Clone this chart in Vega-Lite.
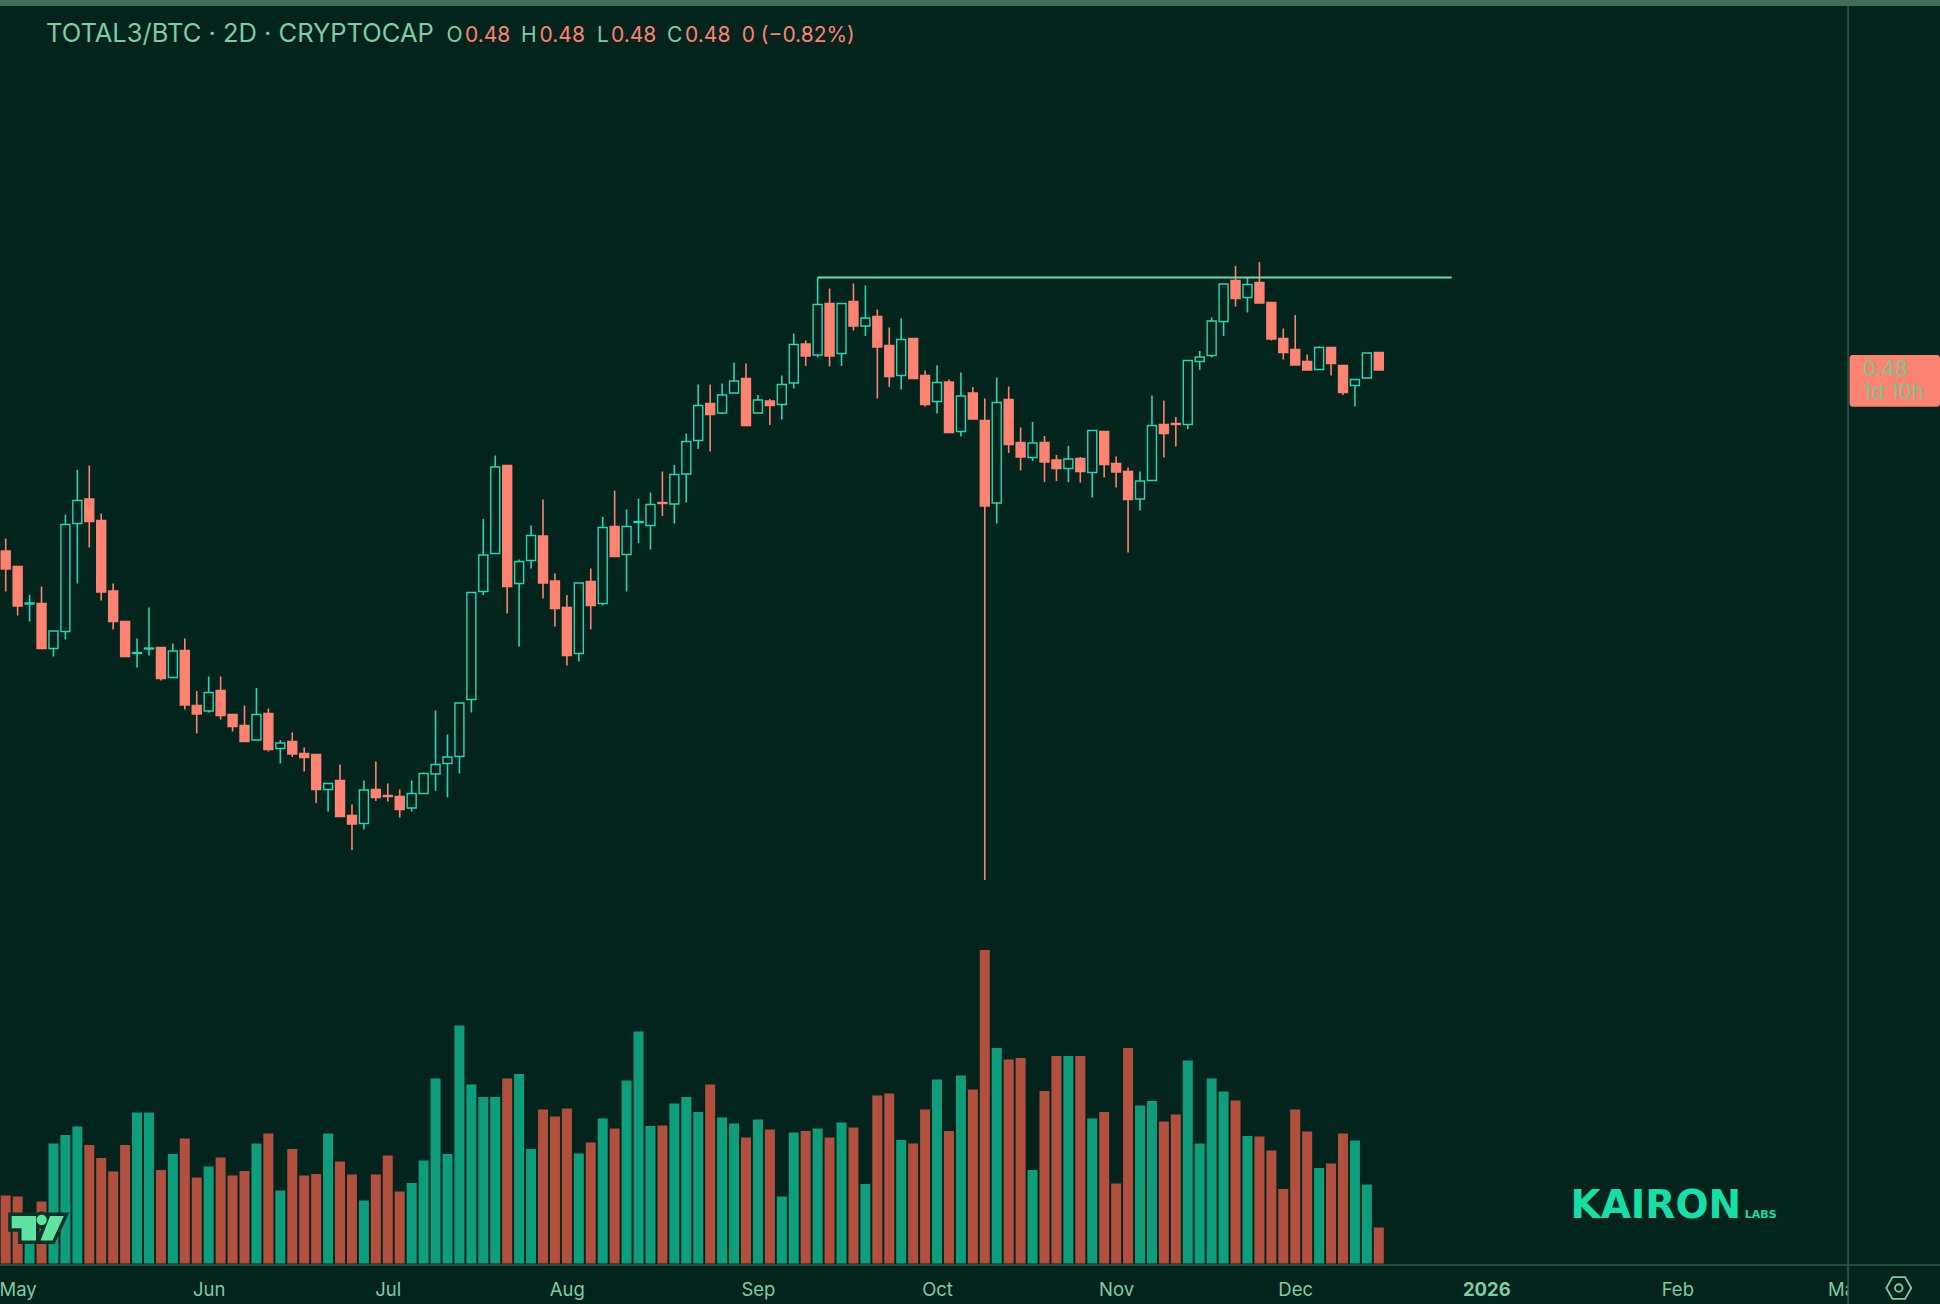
{"$schema":"https://vega.github.io/schema/vega-lite/v6.json","width":1940,"height":1304,"padding":0,"autosize":"none","background":"#03241d","config":{"view":{"stroke":null},"font":"Inter"},
"datasets":{"candles":[
{"d":"2025-04-29","dir":"down","o":0.4438,"h":0.4463,"l":0.4357,"c":0.4402,"v":68},
{"d":"2025-05-01","dir":"down","o":0.4407,"h":0.4407,"l":0.4309,"c":0.4328,"v":67},
{"d":"2025-05-03","dir":"up","o":0.4332,"h":0.4350,"l":0.4297,"c":0.4334,"v":43},
{"d":"2025-05-05","dir":"down","o":0.4333,"h":0.4367,"l":0.4243,"c":0.4243,"v":62},
{"d":"2025-05-07","dir":"up","o":0.4243,"h":0.4278,"l":0.4227,"c":0.4278,"v":120},
{"d":"2025-05-09","dir":"up","o":0.4277,"h":0.4511,"l":0.4261,"c":0.4491,"v":128.5},
{"d":"2025-05-11","dir":"up","o":0.4493,"h":0.4600,"l":0.4373,"c":0.4539,"v":137},
{"d":"2025-05-13","dir":"down","o":0.4542,"h":0.4609,"l":0.4445,"c":0.4497,"v":118.5},
{"d":"2025-05-15","dir":"down","o":0.4499,"h":0.4513,"l":0.4339,"c":0.4356,"v":105.5},
{"d":"2025-05-17","dir":"down","o":0.4358,"h":0.4373,"l":0.4281,"c":0.4297,"v":92},
{"d":"2025-05-19","dir":"down","o":0.4297,"h":0.4297,"l":0.4227,"c":0.4227,"v":118.5},
{"d":"2025-05-21","dir":"up","o":0.4233,"h":0.4263,"l":0.4205,"c":0.4235,"v":151},
{"d":"2025-05-23","dir":"up","o":0.4242,"h":0.4325,"l":0.4229,"c":0.4244,"v":151},
{"d":"2025-05-25","dir":"down","o":0.4245,"h":0.4245,"l":0.4179,"c":0.4183,"v":93.5},
{"d":"2025-05-27","dir":"up","o":0.4185,"h":0.4253,"l":0.4185,"c":0.4238,"v":109.5},
{"d":"2025-05-29","dir":"down","o":0.4239,"h":0.4263,"l":0.4121,"c":0.4130,"v":125},
{"d":"2025-05-31","dir":"down","o":0.4129,"h":0.4158,"l":0.4073,"c":0.4112,"v":86},
{"d":"2025-06-02","dir":"up","o":0.4118,"h":0.4187,"l":0.4115,"c":0.4155,"v":97},
{"d":"2025-06-04","dir":"down","o":0.4159,"h":0.4187,"l":0.4101,"c":0.4109,"v":106},
{"d":"2025-06-06","dir":"down","o":0.4111,"h":0.4111,"l":0.4077,"c":0.4087,"v":88},
{"d":"2025-06-08","dir":"down","o":0.4089,"h":0.4129,"l":0.4057,"c":0.4057,"v":92.5},
{"d":"2025-06-10","dir":"up","o":0.4060,"h":0.4164,"l":0.4060,"c":0.4111,"v":120},
{"d":"2025-06-12","dir":"down","o":0.4113,"h":0.4123,"l":0.4037,"c":0.4041,"v":130},
{"d":"2025-06-14","dir":"up","o":0.4043,"h":0.4060,"l":0.4013,"c":0.4054,"v":73},
{"d":"2025-06-16","dir":"down","o":0.4057,"h":0.4075,"l":0.4026,"c":0.4032,"v":114.5},
{"d":"2025-06-18","dir":"down","o":0.4033,"h":0.4045,"l":0.3997,"c":0.4025,"v":88},
{"d":"2025-06-20","dir":"down","o":0.4031,"h":0.4031,"l":0.3934,"c":0.3961,"v":89.5},
{"d":"2025-06-22","dir":"up","o":0.3961,"h":0.3973,"l":0.3917,"c":0.3973,"v":130},
{"d":"2025-06-24","dir":"down","o":0.3979,"h":0.4011,"l":0.3907,"c":0.3907,"v":102},
{"d":"2025-06-26","dir":"down","o":0.3909,"h":0.3931,"l":0.3840,"c":0.3892,"v":89},
{"d":"2025-06-28","dir":"up","o":0.3893,"h":0.3979,"l":0.3881,"c":0.3960,"v":63},
{"d":"2025-06-30","dir":"down","o":0.3961,"h":0.4017,"l":0.3938,"c":0.3945,"v":89},
{"d":"2025-07-02","dir":"down","o":0.3949,"h":0.3973,"l":0.3937,"c":0.3947,"v":108},
{"d":"2025-07-04","dir":"down","o":0.3947,"h":0.3961,"l":0.3905,"c":0.3921,"v":72},
{"d":"2025-07-06","dir":"up","o":0.3924,"h":0.3979,"l":0.3917,"c":0.3953,"v":80.5},
{"d":"2025-07-08","dir":"up","o":0.3953,"h":0.3995,"l":0.3953,"c":0.3993,"v":103},
{"d":"2025-07-10","dir":"up","o":0.3992,"h":0.4119,"l":0.3958,"c":0.4011,"v":185},
{"d":"2025-07-12","dir":"up","o":0.4013,"h":0.4071,"l":0.3945,"c":0.4026,"v":109.5},
{"d":"2025-07-14","dir":"up","o":0.4027,"h":0.4134,"l":0.3993,"c":0.4134,"v":238},
{"d":"2025-07-16","dir":"up","o":0.4141,"h":0.4355,"l":0.4115,"c":0.4355,"v":179},
{"d":"2025-07-18","dir":"up","o":0.4357,"h":0.4502,"l":0.4350,"c":0.4430,"v":166.5},
{"d":"2025-07-20","dir":"up","o":0.4433,"h":0.4629,"l":0.4433,"c":0.4606,"v":166.5},
{"d":"2025-07-22","dir":"down","o":0.4609,"h":0.4609,"l":0.4313,"c":0.4367,"v":185},
{"d":"2025-07-24","dir":"up","o":0.4373,"h":0.4421,"l":0.4247,"c":0.4417,"v":189.5},
{"d":"2025-07-26","dir":"up","o":0.4419,"h":0.4489,"l":0.4403,"c":0.4469,"v":114.5},
{"d":"2025-07-28","dir":"down","o":0.4468,"h":0.4541,"l":0.4343,"c":0.4374,"v":154},
{"d":"2025-07-30","dir":"down","o":0.4378,"h":0.4393,"l":0.4287,"c":0.4323,"v":147},
{"d":"2025-08-01","dir":"down","o":0.4325,"h":0.4350,"l":0.4209,"c":0.4229,"v":155},
{"d":"2025-08-03","dir":"up","o":0.4233,"h":0.4374,"l":0.4217,"c":0.4374,"v":110},
{"d":"2025-08-05","dir":"down","o":0.4377,"h":0.4403,"l":0.4281,"c":0.4329,"v":121},
{"d":"2025-08-07","dir":"up","o":0.4333,"h":0.4506,"l":0.4329,"c":0.4485,"v":145},
{"d":"2025-08-09","dir":"down","o":0.4487,"h":0.4559,"l":0.4427,"c":0.4427,"v":135},
{"d":"2025-08-11","dir":"up","o":0.4431,"h":0.4521,"l":0.4357,"c":0.4487,"v":183},
{"d":"2025-08-13","dir":"up","o":0.4495,"h":0.4543,"l":0.4454,"c":0.4497,"v":232},
{"d":"2025-08-15","dir":"up","o":0.4489,"h":0.4555,"l":0.4441,"c":0.4531,"v":137.5},
{"d":"2025-08-17","dir":"down","o":0.4535,"h":0.4597,"l":0.4508,"c":0.4533,"v":138},
{"d":"2025-08-19","dir":"up","o":0.4532,"h":0.4610,"l":0.4493,"c":0.4591,"v":160},
{"d":"2025-08-21","dir":"up","o":0.4592,"h":0.4673,"l":0.4535,"c":0.4657,"v":166.5},
{"d":"2025-08-23","dir":"up","o":0.4659,"h":0.4771,"l":0.4642,"c":0.4729,"v":151.5},
{"d":"2025-08-25","dir":"down","o":0.4733,"h":0.4771,"l":0.4637,"c":0.4711,"v":179},
{"d":"2025-08-27","dir":"up","o":0.4714,"h":0.4773,"l":0.4712,"c":0.4750,"v":146},
{"d":"2025-08-29","dir":"up","o":0.4754,"h":0.4815,"l":0.4754,"c":0.4778,"v":140},
{"d":"2025-08-31","dir":"down","o":0.4783,"h":0.4813,"l":0.4689,"c":0.4689,"v":126},
{"d":"2025-09-02","dir":"up","o":0.4714,"h":0.4750,"l":0.4714,"c":0.4740,"v":144},
{"d":"2025-09-04","dir":"down","o":0.4738,"h":0.4742,"l":0.4690,"c":0.4729,"v":134},
{"d":"2025-09-06","dir":"up","o":0.4731,"h":0.4789,"l":0.4701,"c":0.4771,"v":67},
{"d":"2025-09-08","dir":"up","o":0.4774,"h":0.4873,"l":0.4763,"c":0.4851,"v":131},
{"d":"2025-09-10","dir":"down","o":0.4852,"h":0.4859,"l":0.4808,"c":0.4828,"v":132.5},
{"d":"2025-09-12","dir":"up","o":0.4830,"h":0.4985,"l":0.4825,"c":0.4931,"v":135},
{"d":"2025-09-14","dir":"down","o":0.4933,"h":0.4963,"l":0.4807,"c":0.4828,"v":126},
{"d":"2025-09-16","dir":"up","o":0.4833,"h":0.4933,"l":0.4808,"c":0.4933,"v":141},
{"d":"2025-09-18","dir":"down","o":0.4937,"h":0.4973,"l":0.4879,"c":0.4888,"v":136},
{"d":"2025-09-20","dir":"up","o":0.4888,"h":0.4969,"l":0.4868,"c":0.4904,"v":79.5},
{"d":"2025-09-22","dir":"down","o":0.4907,"h":0.4921,"l":0.4743,"c":0.4846,"v":168},
{"d":"2025-09-24","dir":"down","o":0.4849,"h":0.4885,"l":0.4766,"c":0.4787,"v":170},
{"d":"2025-09-26","dir":"up","o":0.4789,"h":0.4903,"l":0.4761,"c":0.4861,"v":123.5},
{"d":"2025-09-28","dir":"down","o":0.4863,"h":0.4863,"l":0.4783,"c":0.4783,"v":120},
{"d":"2025-09-30","dir":"down","o":0.4789,"h":0.4799,"l":0.4727,"c":0.4731,"v":154},
{"d":"2025-10-02","dir":"up","o":0.4737,"h":0.4809,"l":0.4713,"c":0.4775,"v":184},
{"d":"2025-10-04","dir":"down","o":0.4776,"h":0.4781,"l":0.4675,"c":0.4675,"v":132.5},
{"d":"2025-10-06","dir":"up","o":0.4677,"h":0.4795,"l":0.4667,"c":0.4748,"v":188},
{"d":"2025-10-08","dir":"down","o":0.4754,"h":0.4766,"l":0.4702,"c":0.4702,"v":174},
{"d":"2025-10-10","dir":"down","o":0.4699,"h":0.4743,"l":0.3780,"c":0.4528,"v":313.5},
{"d":"2025-10-12","dir":"up","o":0.4534,"h":0.4785,"l":0.4493,"c":0.4735,"v":215.5},
{"d":"2025-10-14","dir":"down","o":0.4741,"h":0.4767,"l":0.4634,"c":0.4651,"v":204},
{"d":"2025-10-16","dir":"down","o":0.4655,"h":0.4685,"l":0.4599,"c":0.4626,"v":205.5},
{"d":"2025-10-18","dir":"up","o":0.4625,"h":0.4696,"l":0.4618,"c":0.4654,"v":93.5},
{"d":"2025-10-20","dir":"down","o":0.4655,"h":0.4668,"l":0.4576,"c":0.4616,"v":172.5},
{"d":"2025-10-22","dir":"down","o":0.4620,"h":0.4630,"l":0.4578,"c":0.4603,"v":207.5},
{"d":"2025-10-24","dir":"up","o":0.4603,"h":0.4648,"l":0.4576,"c":0.4622,"v":207.5},
{"d":"2025-10-26","dir":"down","o":0.4623,"h":0.4626,"l":0.4575,"c":0.4597,"v":207.5},
{"d":"2025-10-28","dir":"up","o":0.4595,"h":0.4679,"l":0.4545,"c":0.4679,"v":145},
{"d":"2025-10-30","dir":"down","o":0.4677,"h":0.4677,"l":0.4585,"c":0.4611,"v":151.5},
{"d":"2025-11-01","dir":"down","o":0.4613,"h":0.4627,"l":0.4565,"c":0.4596,"v":80},
{"d":"2025-11-03","dir":"down","o":0.4597,"h":0.4605,"l":0.4435,"c":0.4541,"v":215.5},
{"d":"2025-11-05","dir":"up","o":0.4542,"h":0.4597,"l":0.4519,"c":0.4578,"v":158},
{"d":"2025-11-07","dir":"up","o":0.4579,"h":0.4749,"l":0.4579,"c":0.4689,"v":162.5},
{"d":"2025-11-09","dir":"down","o":0.4691,"h":0.4739,"l":0.4625,"c":0.4673,"v":142},
{"d":"2025-11-11","dir":"down","o":0.4693,"h":0.4706,"l":0.4647,"c":0.4691,"v":149},
{"d":"2025-11-13","dir":"up","o":0.4691,"h":0.4819,"l":0.4682,"c":0.4819,"v":203},
{"d":"2025-11-15","dir":"up","o":0.4817,"h":0.4838,"l":0.4800,"c":0.4826,"v":120},
{"d":"2025-11-17","dir":"up","o":0.4829,"h":0.4905,"l":0.4825,"c":0.4898,"v":185},
{"d":"2025-11-19","dir":"up","o":0.4897,"h":0.4972,"l":0.4868,"c":0.4972,"v":172},
{"d":"2025-11-21","dir":"down","o":0.4979,"h":0.5008,"l":0.4927,"c":0.4943,"v":163},
{"d":"2025-11-23","dir":"up","o":0.4945,"h":0.4986,"l":0.4915,"c":0.4971,"v":127.5},
{"d":"2025-11-25","dir":"down","o":0.4975,"h":0.5016,"l":0.4934,"c":0.4934,"v":127},
{"d":"2025-11-27","dir":"down","o":0.4935,"h":0.4935,"l":0.4859,"c":0.4862,"v":113},
{"d":"2025-11-29","dir":"down","o":0.4863,"h":0.4883,"l":0.4821,"c":0.4835,"v":74.5},
{"d":"2025-12-01","dir":"down","o":0.4841,"h":0.4910,"l":0.4810,"c":0.4810,"v":154},
{"d":"2025-12-03","dir":"down","o":0.4817,"h":0.4831,"l":0.4800,"c":0.4800,"v":132},
{"d":"2025-12-05","dir":"up","o":0.4801,"h":0.4847,"l":0.4801,"c":0.4845,"v":95.5},
{"d":"2025-12-07","dir":"down","o":0.4845,"h":0.4845,"l":0.4789,"c":0.4813,"v":100},
{"d":"2025-12-09","dir":"down","o":0.4809,"h":0.4809,"l":0.4750,"c":0.4755,"v":130},
{"d":"2025-12-11","dir":"up","o":0.4769,"h":0.4781,"l":0.4727,"c":0.4781,"v":123},
{"d":"2025-12-13","dir":"up","o":0.4784,"h":0.4834,"l":0.4784,"c":0.4834,"v":79},
{"d":"2025-12-15","dir":"down","o":0.4835,"h":0.4835,"l":0.4800,"c":0.4800,"v":36}
]},
"resolve":{"scale":{"y":"independent","fill":"independent","stroke":"independent","color":"independent"}},
"encoding":{"x":{"field":"d","type":"temporal","title":null,"scale":{"type":"utc","domain":["2025-04-28T01:05:00Z","2026-03-19T00:00:00Z"],"nice":false,"padding":0},
"axis":{"orient":"bottom","offset":-39,"domain":false,"ticks":false,"grid":false,"title":null,"labelFont":"Inter","labelFontSize":18.5,"labelColor":"#7ecba4","labelPadding":15,"labelOverlap":false,"labelFlush":false,"labelBound":false,"labelAngle":0,
"values":[{"year":2025,"month":5,"date":1,"utc":true},{"year":2025,"month":6,"date":2,"utc":true},{"year":2025,"month":7,"date":2,"utc":true},{"year":2025,"month":8,"date":1,"utc":true},{"year":2025,"month":9,"date":2,"utc":true},{"year":2025,"month":10,"date":2,"utc":true},{"year":2025,"month":11,"date":1,"utc":true},{"year":2025,"month":12,"date":1,"utc":true},{"year":2026,"month":1,"date":2,"utc":true},{"year":2026,"month":2,"date":3,"utc":true},{"year":2026,"month":3,"date":3,"utc":true}],
"labelExpr":"utcmonth(datum.value)==0 ? '2026' : utcFormat(datum.value,'%b')",
"labelFontWeight":{"condition":{"test":"utcmonth(datum.value)==0","value":700},"value":400}}}},
"layer":[
{"data":{"name":"candles"},"mark":{"type":"bar","size":10,"stroke":null},"encoding":{"y":{"field":"v","type":"quantitative","title":null,"scale":{"domain":[-40.5,1263.5],"nice":false,"zero":false},"axis":null},"y2":{"datum":0},"fill":{"field":"dir","type":"nominal","legend":null,"scale":{"domain":["up","down"],"range":["#109d7c","#b25040"]}}}},
{"data":{"name":"candles"},"mark":{"type":"rule","strokeWidth":1.6},"encoding":{"y":{"field":"h","type":"quantitative","title":null,"scale":{"domain":[0.2932,0.554],"nice":false,"zero":false},"axis":null},"y2":{"field":"l"},"stroke":{"field":"dir","type":"nominal","legend":null,"scale":{"domain":["up","down"],"range":["#2ad4b1","#fd8373"]}}}},
{"data":{"name":"candles"},"mark":{"type":"bar","size":9,"strokeWidth":1.4},"encoding":{"y":{"field":"o","type":"quantitative","title":null,"scale":{"domain":[0.2932,0.554],"nice":false,"zero":false},"axis":null},"y2":{"field":"c"},"fill":{"field":"dir","type":"nominal","legend":null,"scale":{"domain":["up","down"],"range":["#03241d","#fd8373"]}},"stroke":{"field":"dir","type":"nominal","legend":null,"scale":{"domain":["up","down"],"range":["#2ad4b1","#fd8373"]}}}},
{"data":{"values":[{"d":"2025-09-12","d2":"2025-12-27T05:00:00Z","p":0.4985}]},"mark":{"type":"rule","strokeWidth":2,"color":"#7bd3a3"},"encoding":{"x2":{"field":"d2"},"y":{"field":"p","type":"quantitative","title":null,"scale":{"domain":[0.2932,0.554],"nice":false,"zero":false},"axis":null}}},
{"data":{"values":[{"d":"2026-03-03T14:24:00Z","d2":"2026-03-19T00:00:00Z"}]},"mark":{"type":"rect","fill":"#03241d"},"encoding":{"x2":{"field":"d2"}}},
{"data":{"values":[{"d":"2025-04-28T01:05:00Z","d2":"2026-03-19T00:00:00Z","p":0.301}]},"mark":{"type":"rule","strokeWidth":1.5,"color":"#2e5a4b"},"encoding":{"x2":{"field":"d2"},"y":{"field":"p","type":"quantitative","title":null,"scale":{"domain":[0.2932,0.554],"nice":false,"zero":false},"axis":null}}},
{"data":{"values":[{"d":"2026-03-03T14:24:00Z"}]},"mark":{"type":"rule","strokeWidth":1.5,"color":"#2e5a4b"}},
{"data":{"values":[{"d":"2025-04-28T01:05:00Z","d2":"2026-03-19T00:00:00Z","p":0.554,"p2":0.5528}]},"mark":{"type":"rect","fill":"#3f6e58"},"encoding":{"x2":{"field":"d2"},"y":{"field":"p","type":"quantitative","title":null,"scale":{"domain":[0.2932,0.554],"nice":false,"zero":false},"axis":null},"y2":{"field":"p2"}}},
{"data":{"values":[{"d":"2026-03-03T20:24:00Z","d2":"2026-03-19T00:00:00Z","p":0.483,"p2":0.47266}]},"mark":{"type":"rect","fill":"#fd8373","cornerRadius":3},"encoding":{"x2":{"field":"d2"},"y":{"field":"p","type":"quantitative","title":null,"scale":{"domain":[0.2932,0.554],"nice":false,"zero":false},"axis":null},"y2":{"field":"p2"}}},
{"data":{"values":[{"d":"2026-03-06T02:24:00Z","p":0.4788,"t":"0.48"},{"d":"2026-03-06T02:24:00Z","p":0.47414,"t":"1d 10h"}]},"mark":{"type":"text","align":"left","baseline":"alphabetic","font":"Inter","fontSize":21,"color":"#7ec28f"},"encoding":{"y":{"field":"p","type":"quantitative","title":null,"scale":{"domain":[0.2932,0.554],"nice":false,"zero":false},"axis":null},"text":{"field":"t"}}},
{"data":{"values":[{"d":"2025-05-05T18:00:00Z","p":0.54554,"t":"TOTAL3/BTC · 2D · CRYPTOCAP"}]},"mark":{"type":"text","align":"left","baseline":"alphabetic","font":"Inter","fontSize":25.5,"color":"#7ecba4"},"encoding":{"y":{"field":"p","type":"quantitative","title":null,"scale":{"domain":[0.2932,0.554],"nice":false,"zero":false},"axis":null},"text":{"field":"t"}}},
{"data":{"values":[{"d":"2025-07-11T20:24:00Z","p":0.54554,"t":"O","k":"key"},{"d":"2025-07-14T22:19:00Z","p":0.54554,"t":"0.48","k":"val"},{"d":"2025-07-24T07:12:00Z","p":0.54554,"t":"H","k":"key"},{"d":"2025-07-27T10:19:00Z","p":0.54554,"t":"0.48","k":"val"},{"d":"2025-08-06T01:12:00Z","p":0.54554,"t":"L","k":"key"},{"d":"2025-08-08T09:21:00Z","p":0.54554,"t":"0.48","k":"val"},{"d":"2025-08-17T18:29:00Z","p":0.54554,"t":"C","k":"key"},{"d":"2025-08-20T19:12:00Z","p":0.54554,"t":"0.48","k":"val"},{"d":"2025-08-30T06:43:00Z","p":0.54554,"t":"0 (−0.82%)","k":"val"}]},"mark":{"type":"text","align":"left","baseline":"alphabetic","font":"Inter","fontSize":21},"encoding":{"y":{"field":"p","type":"quantitative","title":null,"scale":{"domain":[0.2932,0.554],"nice":false,"zero":false},"axis":null},"text":{"field":"t"},"color":{"field":"k","type":"nominal","legend":null,"scale":{"domain":["key","val"],"range":["#7ecba4","#fd8373"]}}}},
{"data":{"values":[{"d":"2026-01-16T02:24:00Z","p":0.31034,"t":"KAIRON"}]},"mark":{"type":"text","align":"left","baseline":"alphabetic","font":"DejaVu Sans","fontWeight":"bold","fontSize":39,"color":"#19dda6"},"encoding":{"y":{"field":"p","type":"quantitative","title":null,"scale":{"domain":[0.2932,0.554],"nice":false,"zero":false},"axis":null},"text":{"field":"t"}}},
{"data":{"values":[{"d":"2026-02-14T07:12:00Z","p":0.31034,"t":"LABS"}]},"mark":{"type":"text","align":"left","baseline":"alphabetic","font":"DejaVu Sans","fontWeight":"bold","fontSize":11,"color":"#19dda6"},"encoding":{"y":{"field":"p","type":"quantitative","title":null,"scale":{"domain":[0.2932,0.554],"nice":false,"zero":false},"axis":null},"text":{"field":"t"}}},
{"data":{"values":[{"d":"2025-05-04T15:00:00Z","p":0.30834}]},"mark":{"type":"point","filled":true,"opacity":1,"size":3600,"fill":"#0a3229","stroke":"#0a3229","strokeWidth":7,"shape":"M-0.92,-0.41L-0.11,-0.41L-0.11,0.41L-0.59,0.41L-0.59,0L-0.92,0ZM0.36,-0.41L0.82,-0.41L0.44,0.41L0.04,0.41ZM-0.09,-0.28a0.17,0.17 0 1,0 0.34,0a0.17,0.17 0 1,0 -0.34,0Z"},"encoding":{"y":{"field":"p","type":"quantitative","title":null,"scale":{"domain":[0.2932,0.554],"nice":false,"zero":false},"axis":null}}},
{"data":{"values":[{"d":"2025-05-04T15:00:00Z","p":0.30834}]},"mark":{"type":"point","filled":true,"opacity":1,"size":3600,"fill":"#5fe3a1","stroke":null,"shape":"M-0.92,-0.41L-0.11,-0.41L-0.11,0.41L-0.59,0.41L-0.59,0L-0.92,0ZM0.36,-0.41L0.82,-0.41L0.44,0.41L0.04,0.41ZM-0.09,-0.28a0.17,0.17 0 1,0 0.34,0a0.17,0.17 0 1,0 -0.34,0Z"},"encoding":{"y":{"field":"p","type":"quantitative","title":null,"scale":{"domain":[0.2932,0.554],"nice":false,"zero":false},"axis":null}}},
{"data":{"values":[{"d":"2026-03-12T02:24:00Z","p":0.2964}]},"mark":{"type":"point","filled":false,"opacity":1,"size":625,"color":"#7ecba4","strokeWidth":1.8,"shape":"M-1,0L-0.5,-0.87L0.5,-0.87L1,0L0.5,0.87L-0.5,0.87ZM-0.3,0a0.3,0.3 0 1,0 0.6,0a0.3,0.3 0 1,0 -0.6,0Z"},"encoding":{"y":{"field":"p","type":"quantitative","title":null,"scale":{"domain":[0.2932,0.554],"nice":false,"zero":false},"axis":null}}}
]}
